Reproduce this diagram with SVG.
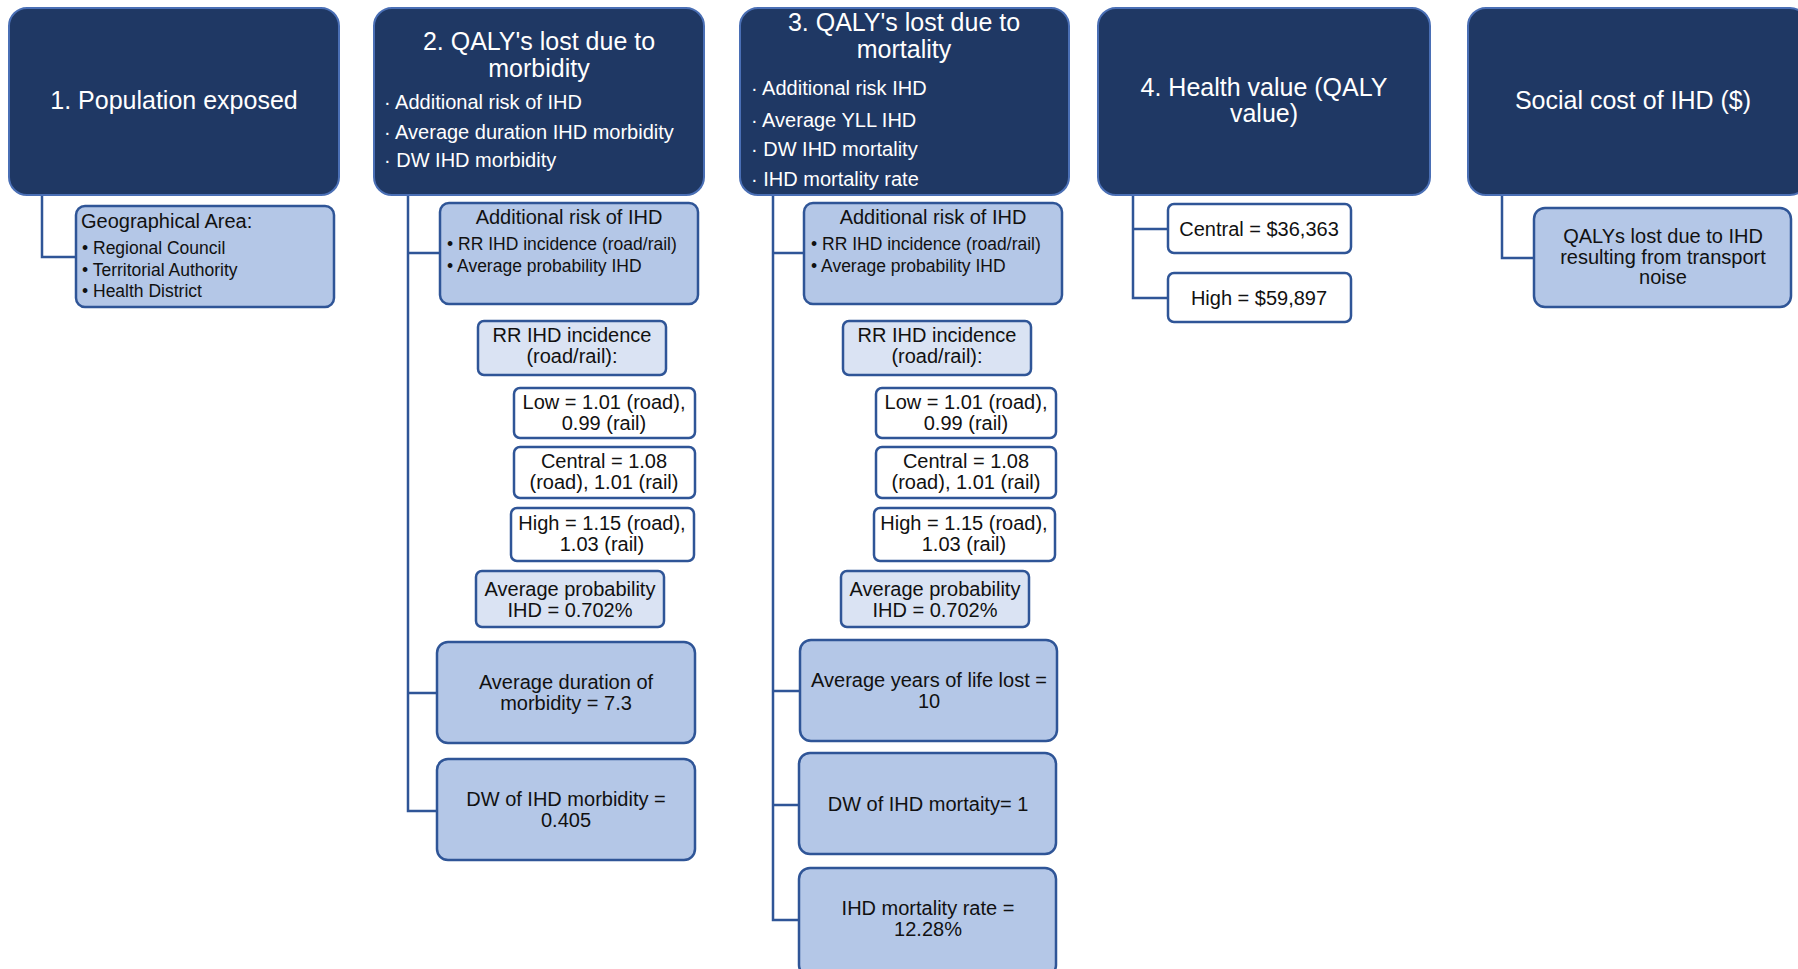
<svg xmlns="http://www.w3.org/2000/svg" width="1798" height="969" viewBox="0 0 1798 969">
  <style>
    text { font-family: "Liberation Sans", Arial, sans-serif; }
    .head { fill: #1F3864; stroke: #4A6FB5; stroke-width: 2; }
    .mid { fill: #B4C7E7; stroke: #2F5597; stroke-width: 2.5; }
    .pale { fill: #DAE3F3; stroke: #2F5597; stroke-width: 2.5; }
    .plain { fill: #FFFFFF; stroke: #2F5597; stroke-width: 2.5; }
    .ht { fill: #FFFFFF; font-size: 25px; text-anchor: middle; }
    .hb { fill: #FFFFFF; font-size: 20px; }
    .t { fill: #111111; font-size: 20px; text-anchor: middle; }
    .tl { fill: #111111; font-size: 20px; }
    .sb { fill: #111111; font-size: 17.5px; }
    .conn { fill: none; stroke: #2F5597; stroke-width: 2.5; }
  </style>

  <!-- tree connectors -->
  <g id="connectors">
    <path class="conn" d="M42 195 V257 H76"/>
    <path class="conn" d="M408 195 V811 H437 M408 253 H440 M408 693 H437"/>
    <path class="conn" d="M773 195 V920 H799 M773 253 H804 M773 691 H800 M773 805 H799"/>
    <path class="conn" d="M1133 195 V298 H1168 M1133 229 H1168"/>
    <path class="conn" d="M1502 195 V258 H1534"/>
  </g>

  <!-- column 1 -->
  <g id="population">
    <rect class="head" x="9" y="8" width="330" height="187" rx="18"/>
    <text class="ht" x="174" y="109">1. Population exposed</text>
  </g>
  <g id="geo-area">
    <rect class="mid" x="76" y="206" width="258" height="101" rx="9"/>
    <text class="tl" x="81" y="228">Geographical Area:</text>
    <text class="sb" x="82" y="254">• Regional Council</text>
    <text class="sb" x="82" y="276">• Territorial Authority</text>
    <text class="sb" x="82" y="297">• Health District</text>
  </g>

  <!-- column 2 -->
  <g id="morbidity">
    <rect class="head" x="374" y="8" width="330" height="187" rx="18"/>
    <text class="ht" x="539" y="50">2. QALY's lost due to</text>
    <text class="ht" x="539" y="77">morbidity</text>
    <text class="hb" x="384" y="109">· Additional risk of IHD</text>
    <text class="hb" x="384" y="139">· Average duration IHD morbidity</text>
    <text class="hb" x="384" y="167">· DW IHD morbidity</text>
  </g>
  <g id="m-risk">
    <rect class="mid" x="440" y="203" width="258" height="101" rx="9"/>
    <text class="t" x="569" y="224">Additional risk of IHD</text>
    <text class="sb" x="447" y="250">• RR IHD incidence (road/rail)</text>
    <text class="sb" x="447" y="272">• Average probability IHD</text>
  </g>
  <g id="m-rr">
    <rect class="pale" x="478" y="321" width="188" height="54" rx="6"/>
    <text class="t" x="572" y="342">RR IHD incidence</text>
    <text class="t" x="572" y="363">(road/rail):</text>
  </g>
  <g id="m-low">
    <rect class="plain" x="514" y="388" width="181" height="50" rx="6"/>
    <text class="t" x="604" y="409">Low = 1.01 (road),</text>
    <text class="t" x="604" y="430">0.99 (rail)</text>
  </g>
  <g id="m-central">
    <rect class="plain" x="514" y="447" width="181" height="51" rx="6"/>
    <text class="t" x="604" y="468">Central = 1.08</text>
    <text class="t" x="604" y="489">(road), 1.01 (rail)</text>
  </g>
  <g id="m-high">
    <rect class="plain" x="511" y="508" width="183" height="53" rx="6"/>
    <text class="t" x="602" y="530">High = 1.15 (road),</text>
    <text class="t" x="602" y="551">1.03 (rail)</text>
  </g>
  <g id="m-prob">
    <rect class="pale" x="476" y="571" width="188" height="56" rx="6"/>
    <text class="t" x="570" y="596">Average probability</text>
    <text class="t" x="570" y="617">IHD = 0.702%</text>
  </g>
  <g id="m-duration">
    <rect class="mid" x="437" y="642" width="258" height="101" rx="11"/>
    <text class="t" x="566" y="689">Average duration of</text>
    <text class="t" x="566" y="710">morbidity = 7.3</text>
  </g>
  <g id="m-dw">
    <rect class="mid" x="437" y="759" width="258" height="101" rx="11"/>
    <text class="t" x="566" y="806">DW of IHD morbidity =</text>
    <text class="t" x="566" y="827">0.405</text>
  </g>

  <!-- column 3 -->
  <g id="mortality">
    <rect class="head" x="740" y="8" width="329" height="187" rx="18"/>
    <text class="ht" x="904" y="31">3. QALY's lost due to</text>
    <text class="ht" x="904" y="58">mortality</text>
    <text class="hb" x="751" y="95">· Additional risk IHD</text>
    <text class="hb" x="751" y="127">· Average YLL IHD</text>
    <text class="hb" x="751" y="156">· DW IHD mortality</text>
    <text class="hb" x="751" y="186">· IHD mortality rate</text>
  </g>
  <g id="d-risk">
    <rect class="mid" x="804" y="203" width="258" height="101" rx="9"/>
    <text class="t" x="933" y="224">Additional risk of IHD</text>
    <text class="sb" x="811" y="250">• RR IHD incidence (road/rail)</text>
    <text class="sb" x="811" y="272">• Average probability IHD</text>
  </g>
  <g id="d-rr">
    <rect class="pale" x="843" y="321" width="188" height="54" rx="6"/>
    <text class="t" x="937" y="342">RR IHD incidence</text>
    <text class="t" x="937" y="363">(road/rail):</text>
  </g>
  <g id="d-low">
    <rect class="plain" x="876" y="388" width="180" height="50" rx="6"/>
    <text class="t" x="966" y="409">Low = 1.01 (road),</text>
    <text class="t" x="966" y="430">0.99 (rail)</text>
  </g>
  <g id="d-central">
    <rect class="plain" x="876" y="447" width="180" height="51" rx="6"/>
    <text class="t" x="966" y="468">Central = 1.08</text>
    <text class="t" x="966" y="489">(road), 1.01 (rail)</text>
  </g>
  <g id="d-high">
    <rect class="plain" x="874" y="508" width="181" height="53" rx="6"/>
    <text class="t" x="964" y="530">High = 1.15 (road),</text>
    <text class="t" x="964" y="551">1.03 (rail)</text>
  </g>
  <g id="d-prob">
    <rect class="pale" x="841" y="571" width="188" height="56" rx="6"/>
    <text class="t" x="935" y="596">Average probability</text>
    <text class="t" x="935" y="617">IHD = 0.702%</text>
  </g>
  <g id="d-yll">
    <rect class="mid" x="800" y="640" width="257" height="101" rx="11"/>
    <text class="t" x="929" y="687">Average years of life lost =</text>
    <text class="t" x="929" y="708">10</text>
  </g>
  <g id="d-dw">
    <rect class="mid" x="799" y="753" width="257" height="101" rx="11"/>
    <text class="t" x="928" y="811">DW of IHD mortaity= 1</text>
  </g>
  <g id="d-rate">
    <rect class="mid" x="799" y="868" width="257" height="108" rx="11"/>
    <text class="t" x="928" y="915">IHD mortality rate =</text>
    <text class="t" x="928" y="936">12.28%</text>
  </g>

  <!-- column 4 -->
  <g id="health-value">
    <rect class="head" x="1098" y="8" width="332" height="187" rx="18"/>
    <text class="ht" x="1264" y="96">4. Health value (QALY</text>
    <text class="ht" x="1264" y="122">value)</text>
  </g>
  <g id="hv-central">
    <rect class="plain" x="1168" y="204" width="183" height="49" rx="6"/>
    <text class="t" x="1259" y="236">Central = $36,363</text>
  </g>
  <g id="hv-high">
    <rect class="plain" x="1168" y="273" width="183" height="49" rx="6"/>
    <text class="t" x="1259" y="305">High = $59,897</text>
  </g>

  <!-- column 5 -->
  <g id="social-cost">
    <rect class="head" x="1468" y="8" width="340" height="187" rx="18"/>
    <text class="ht" x="1633" y="109">Social cost of IHD ($)</text>
  </g>
  <g id="qalys-lost">
    <rect class="mid" x="1534" y="208" width="257" height="99" rx="11"/>
    <text class="t" x="1663" y="243">QALYs lost due to IHD</text>
    <text class="t" x="1663" y="264">resulting from transport</text>
    <text class="t" x="1663" y="284">noise</text>
  </g>
</svg>
